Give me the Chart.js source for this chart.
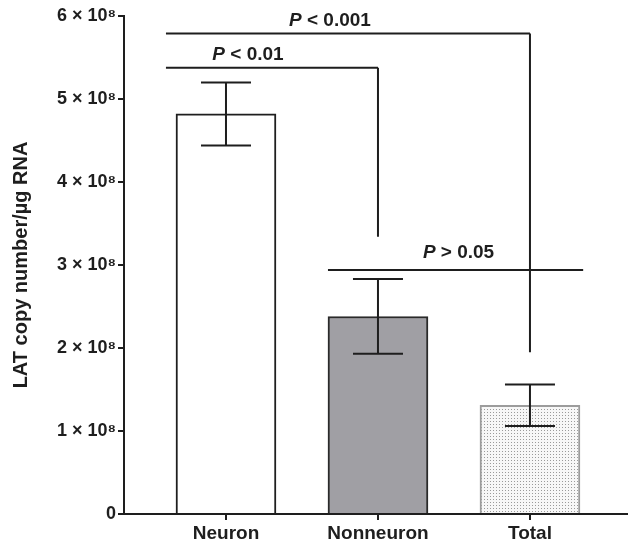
<!DOCTYPE html>
<html><head><meta charset="utf-8">
<script src="https://cdn.jsdelivr.net/npm/chart.js@4/dist/chart.umd.min.js"></script>
<style>html,body{margin:0;padding:0;background:#fff}#wrap{width:628px;height:544px}</style>
</head><body><div id="wrap"><canvas id="c" width="628" height="544"></canvas></div>
<script>
const categories = ['Neuron', 'Nonneuron', 'Total'];
const means = [4.82e8, 2.38e8, 1.31e8];
const errors = [0.38e8, 0.45e8, 0.25e8];
const yTickValues = [0, 1e8, 2e8, 3e8, 4e8, 5e8, 6e8];
const yTickLabels = ['0', '1 × 10⁸', '2 × 10⁸', '3 × 10⁸', '4 × 10⁸', '5 × 10⁸', '6 × 10⁸'];
const yTitle = 'LAT copy number/µg RNA';
// significance brackets (data units)
const bracketX1 = [-0.395, -0.395, 0.671];
const bracketX2 = [2, 1, 2.35];
const bracketY = [5.79e8, 5.377e8, 2.94e8];
const bracketDropTo = [1.95e8, 3.34e8, null];
const sigLabels = ['< 0.001', '< 0.01', '> 0.05'];
const sigLabelX = [0.684, 0.145, 1.53];
const sigLabelY = [5.88e8, 5.47e8, 3.08e8];

const FONT = '"Liberation Sans", Arial, Helvetica, sans-serif';
const INK = '#1e1e1e';

function dotPattern() {
  const p = document.createElement('canvas');
  p.width = 3; p.height = 3;
  const g = p.getContext('2d');
  g.fillStyle = '#f7f7f7'; g.fillRect(0, 0, 3, 3);
  g.fillStyle = '#9a9a9a'; g.fillRect(1, 1, 1, 1);
  return g.createPattern(p, 'repeat');
}
const ctx0 = document.getElementById('c').getContext('2d');
const pattern = dotPattern();

const errorBars = {
  id: 'errorBars',
  afterDatasetsDraw(chart) {
    const {ctx, scales: {x, y}} = chart;
    ctx.save();
    ctx.strokeStyle = INK; ctx.lineWidth = 2;
    means.forEach((m, i) => {
      const px = x.getPixelForValue(i);
      const top = y.getPixelForValue(m + errors[i]);
      const bot = y.getPixelForValue(m - errors[i]);
      ctx.beginPath();
      ctx.moveTo(px, top); ctx.lineTo(px, bot);
      ctx.moveTo(px - 25, top); ctx.lineTo(px + 25, top);
      ctx.moveTo(px - 25, bot); ctx.lineTo(px + 25, bot);
      ctx.stroke();
    });
    bracketY.forEach((by, i) => {
      const x1 = x.getPixelForValue(bracketX1[i]);
      const x2 = x.getPixelForValue(bracketX2[i]);
      const yy = y.getPixelForValue(by);
      ctx.beginPath();
      ctx.moveTo(x1, yy); ctx.lineTo(x2, yy);
      if (bracketDropTo[i] !== null) {
        ctx.moveTo(x2, yy); ctx.lineTo(x2, y.getPixelForValue(bracketDropTo[i]));
      }
      ctx.stroke();
    });
    ctx.fillStyle = INK;
    ctx.textBaseline = 'alphabetic';
    sigLabels.forEach((t, i) => {
      const cx = x.getPixelForValue(sigLabelX[i]);
      const cy = y.getPixelForValue(sigLabelY[i]);
      const fI = 'italic bold 19px ' + FONT;
      const fB = 'bold 19px ' + FONT;
      ctx.font = fI; const wP = ctx.measureText('P').width;
      ctx.font = fB; const wR = ctx.measureText(' ' + t).width;
      const start = cx - (wP + wR) / 2;
      ctx.textAlign = 'left';
      ctx.font = fI; ctx.fillText('P', start, cy);
      ctx.font = fB; ctx.fillText(' ' + t, start + wP, cy);
    });
    ctx.restore();
  }
};

new Chart(ctx0, {
  type: 'bar',
  data: {
    datasets: [{
      data: means.map((v, i) => ({x: i, y: v})),
      backgroundColor: ['#ffffff', '#a09fa4', pattern],
      borderColor: [INK, '#2a2a2a', '#9c9c9c'],
      borderWidth: 2,
      barThickness: 100
    }]
  },
  options: {
    responsive: false,
    animation: false,
    layout: {padding: {top: 16, right: 0, bottom: 0, left: 0}},
    plugins: {legend: {display: false}, tooltip: {enabled: false}},
    scales: {
      x: {
        type: 'linear',
        offset: false,
        min: -0.671, max: 2.645,
        afterBuildTicks(s) { s.ticks = [0, 1, 2].map(v => ({value: v})); },
        afterFit(s) { s.height = 30; },
        ticks: {
          callback: v => categories[v],
          font: {family: FONT, size: 19, weight: 'bold'},
          color: INK, padding: 2, maxRotation: 0, autoSkip: false
        },
        grid: {display: true, offset: false, drawOnChartArea: false, drawTicks: true, tickLength: 6, color: INK, lineWidth: 2},
        border: {display: true, color: INK, width: 2}
      },
      y: {
        min: 0, max: 6e8,
        afterBuildTicks(s) { s.ticks = yTickValues.map(v => ({value: v})); },
        afterFit(s) { s.width = 124; },
        ticks: {
          callback: (v) => yTickLabels[yTickValues.indexOf(v)],
          font: {family: FONT, size: 18, weight: 'bold'},
          color: INK, padding: 2
        },
        grid: {display: true, drawOnChartArea: false, drawTicks: true, tickLength: 6, color: INK, lineWidth: 2},
        border: {display: true, color: INK, width: 2},
        title: {
          display: true, text: yTitle,
          font: {family: FONT, size: 20, weight: 'bold'},
          color: INK, padding: {top: 9, bottom: 0}
        }
      }
    }
  },
  plugins: [errorBars]
});
</script></body></html>
